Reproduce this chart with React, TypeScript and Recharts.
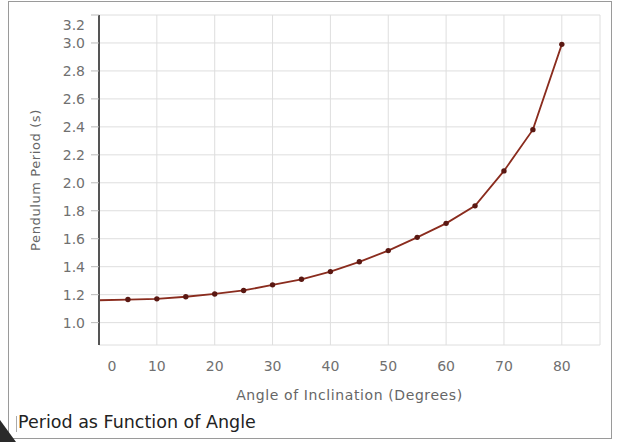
import React from 'react';
import { LineChart, Line, XAxis, YAxis, CartesianGrid } from 'recharts';

const angles = [0, 5, 10, 15, 20, 25, 30, 35, 40, 45, 50, 55, 60, 65, 70, 75, 80];
const periods = [1.16, 1.165, 1.17, 1.185, 1.205, 1.23, 1.27, 1.31, 1.365, 1.435, 1.515, 1.61, 1.71, 1.835, 2.085, 2.38, 2.99];
const xTicks = [0, 10, 20, 30, 40, 50, 60, 70, 80];
const yTicks = [1.0, 1.2, 1.4, 1.6, 1.8, 2.0, 2.2, 2.4, 2.6, 2.8, 3.0, 3.2];

const data = angles.map((a, i) => ({ angle: a, period: periods[i] }));

const font = '"DejaVu Sans", sans-serif';

const XTick = (props: any) => {
  const { x, y, payload } = props;
  const dx = payload.value === 0 ? 13 : 0;
  return (
    <text x={x + dx} y={y + 18} textAnchor="middle" fill="#707070" fontSize={14} fontFamily={font}>
      {payload.value}
    </text>
  );
};

const YTick = (props: any) => {
  const { x, y, payload } = props;
  const dy = payload.value === 3.2 ? 10 : 0;
  return (
    <text x={x - 4} y={y + dy + 5} textAnchor="end" fill="#707070" fontSize={14} fontFamily={font}>
      {payload.value.toFixed(1)}
    </text>
  );
};

const Dot = (props: any) => {
  const { cx, cy, index } = props;
  if (index === 0) return <g key={`d-${index}`} />;
  return <circle key={`d-${index}`} cx={cx} cy={cy} r={2.7} fill="#5a1812" />;
};

export default function App() {
  return (
    <div style={{ position: 'absolute', left: 0, top: 0, width: 617, height: 442, background: '#fff', overflow: 'hidden' }}>
      <div
        style={{
          position: 'absolute',
          left: 8,
          top: 1,
          width: 602,
          height: 436,
          border: '1px solid #9a9a9a',
        }}
      />
      <div style={{ position: 'absolute', left: 0, top: 0 }}>
        <LineChart
          width={617}
          height={442}
          data={data}
          margin={{ top: 15, right: 17, left: 39, bottom: 47 }}
        >
          <CartesianGrid stroke="#dedede" strokeWidth={1} />
          <XAxis
            dataKey="angle"
            type="number"
            domain={[0, 86.6]}
            ticks={xTicks}
            axisLine={false}
            tickLine={false}
            height={50}
            tick={<XTick />}
            label={{
              value: 'Angle of Inclination (Degrees)',
              position: 'insideBottom',
              offset: 0,
              dy: 5,
              fill: '#666',
              fontSize: 14,
              fontFamily: font,
              letterSpacing: 0.6,
            }}
          />
          <YAxis
            type="number"
            domain={[0.84, 3.2]}
            ticks={yTicks}
            width={60}
            axisLine={{ stroke: '#555', strokeWidth: 2 }}
            tickLine={{ stroke: '#bbb' }}
            tickSize={8}
            tick={<YTick />}
            allowDataOverflow
            label={{
              value: 'Pendulum Period (s)',
              angle: -90,
              position: 'insideLeft',
              offset: 0,
              dx: -4,
              fill: '#666',
              fontSize: 13,
              fontFamily: font,
              letterSpacing: 0.6,
              style: { textAnchor: 'middle' },
            }}
          />
          <Line
            type="linear"
            dataKey="period"
            stroke="#8a2c1e"
            strokeWidth={1.8}
            dot={Dot}
            activeDot={false}
            isAnimationActive={false}
          />
        </LineChart>
      </div>
      <div style={{ position: 'absolute', left: 16, top: 416, width: 1, height: 16, background: '#aaa' }} />
      <div
        style={{
          position: 'absolute',
          left: 18,
          top: 412,
          fontFamily: font,
          fontSize: 17.5,
          color: '#222',
          whiteSpace: 'nowrap',
        }}
      >
        Period as Function of Angle
      </div>
      <div
        style={{
          position: 'absolute',
          left: 0,
          top: 420,
          width: 16,
          height: 22,
          background: '#2a2a2a',
          clipPath: 'polygon(0 0, 100% 100%, 0 100%)',
        }}
      />
    </div>
  );
}
